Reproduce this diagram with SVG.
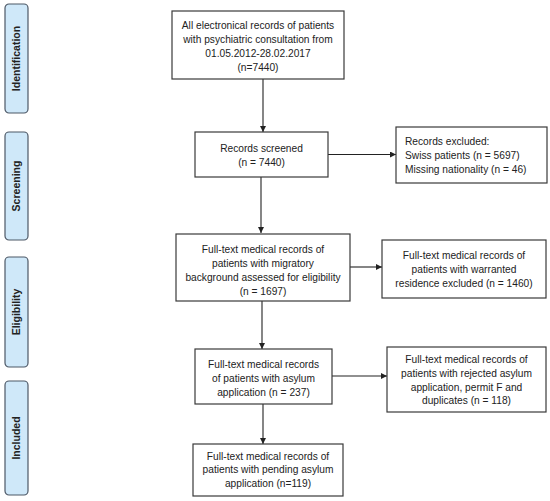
<svg xmlns="http://www.w3.org/2000/svg" width="550" height="501" viewBox="0 0 550 501">
<style>
.box{fill:#fff;stroke:#3a3a3a;stroke-width:1.2}
.side{fill:#cfe8f9;stroke:#4d5866;stroke-width:1.2}
.t{font-family:"Liberation Sans",Arial,sans-serif;font-size:10.2px;fill:#222}
.c{text-anchor:middle}
.s{font-family:"Liberation Sans",Arial,sans-serif;font-size:10.5px;font-weight:bold;fill:#222;text-anchor:middle}
.ln{stroke:#222;stroke-width:1.1;fill:none;marker-end:url(#ah)}
</style>
<defs>
<marker id="ah" viewBox="0 0 10 10" refX="10" refY="5" markerWidth="6" markerHeight="6" markerUnits="userSpaceOnUse" orient="auto">
<path d="M0,0 L10,5 L0,10 z" fill="#222"/>
</marker>
</defs>
<rect x="0" y="0" width="550" height="501" fill="#fff"/>
<g id="side-identification"><rect class="side" x="5" y="4" width="23" height="109" rx="4"/><text class="s" transform="translate(20,58.5) rotate(-90)">Identification</text></g>
<g id="side-screening"><rect class="side" x="5" y="132" width="23" height="108" rx="4"/><text class="s" transform="translate(20,186) rotate(-90)">Screening</text></g>
<g id="side-eligibility"><rect class="side" x="5" y="257" width="23" height="110" rx="4"/><text class="s" transform="translate(20,312) rotate(-90)">Eligibility</text></g>
<g id="side-included"><rect class="side" x="5" y="381" width="23" height="114" rx="4"/><text class="s" transform="translate(20,438) rotate(-90)">Included</text></g>

<g id="connectors">
<line class="ln" x1="263" y1="79" x2="263" y2="132"/>
<line class="ln" x1="261" y1="177" x2="261" y2="233"/>
<line class="ln" x1="262" y1="301" x2="262" y2="349"/>
<line class="ln" x1="263" y1="404" x2="263" y2="444"/>
<line class="ln" x1="328" y1="154.5" x2="396" y2="154.5"/>
<line class="ln" x1="350" y1="267" x2="382" y2="267"/>
<line class="ln" x1="332" y1="376" x2="387" y2="376"/>
</g>

<g id="n1"><rect class="box" x="172" y="11" width="172" height="68"/>
<text class="t c" x="258" y="28.5">All electronical records of patients</text>
<text class="t c" x="258" y="42.5">with psychiatric consultation from</text>
<text class="t c" x="258" y="56.5">01.05.2012-28.02.2017</text>
<text class="t c" x="258" y="70.5">(n=7440)</text></g>

<g id="n2"><rect class="box" x="195" y="132" width="133" height="45"/>
<text class="t c" x="261.5" y="151.5">Records screened</text>
<text class="t c" x="261.5" y="165.5">(n = 7440)</text></g>

<g id="n2x"><rect class="box" x="396" y="127" width="151" height="56"/>
<text class="t" x="405" y="144.5">Records excluded:</text>
<text class="t" x="405" y="158.5">Swiss patients (n = 5697)</text>
<text class="t" x="405" y="172.5">Missing nationality (n = 46)</text></g>

<g id="n3"><rect class="box" x="176" y="234" width="174" height="67"/>
<text class="t c" x="263" y="252.5">Full-text medical records of</text>
<text class="t c" x="263" y="266.5">patients with migratory</text>
<text class="t c" x="263" y="280.5">background assessed for eligibility</text>
<text class="t c" x="263" y="294.5">(n = 1697)</text></g>

<g id="n3x"><rect class="box" x="382" y="240" width="164" height="58"/>
<text class="t c" x="464" y="258.5">Full-text medical records of</text>
<text class="t c" x="464" y="272.5">patients with warranted</text>
<text class="t c" x="464" y="286.5">residence excluded (n = 1460)</text></g>

<g id="n4"><rect class="box" x="195" y="349" width="137" height="55"/>
<text class="t c" x="263.5" y="367.5">Full-text medical records</text>
<text class="t c" x="263.5" y="381.5">of patients with asylum</text>
<text class="t c" x="263.5" y="395.5">application (n = 237)</text></g>

<g id="n4x"><rect class="box" x="387" y="347" width="159" height="65"/>
<text class="t c" x="466.5" y="362.5">Full-text medical records of</text>
<text class="t c" x="466.5" y="376.5">patients with rejected asylum</text>
<text class="t c" x="466.5" y="390.5">application, permit F and</text>
<text class="t c" x="466.5" y="404">duplicates (n = 118)</text></g>

<g id="n5"><rect class="box" x="193" y="444" width="150" height="52"/>
<text class="t c" x="268" y="459.5">Full-text medical records of</text>
<text class="t c" x="268" y="472.5">patients with pending asylum</text>
<text class="t c" x="268" y="486.5">application (n=119)</text></g>
</svg>
